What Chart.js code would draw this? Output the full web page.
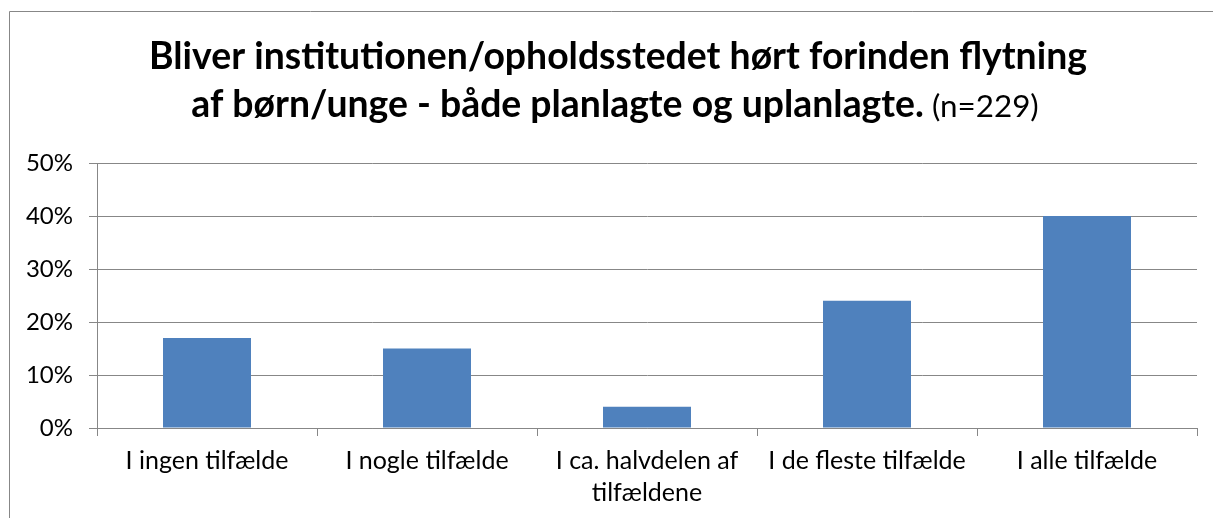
<!DOCTYPE html>
<html>
<head>
<meta charset="utf-8">
<script src="https://cdn.jsdelivr.net/npm/chart.js@4.4.1/dist/chart.umd.min.js"></script>
<style>
html,body{margin:0;padding:0;background:#fff;overflow:hidden;}
#wrap{position:absolute;left:0;top:0;width:1213px;height:518px;}
</style>
</head>
<body>
<div id="wrap"><canvas id="c" width="1213" height="518"></canvas></div>
<script>
const categories = ["I ingen tilfælde", "I nogle tilfælde", ["I ca. halvdelen af", "tilfældene"], "I de fleste tilfælde", "I alle tilfælde"];
const values = [17, 15, 4, 24, 40];
const titleLine1 = "Bliver institutionen/opholdsstedet hørt forinden flytning";
const titleLine2Bold = "af børn/unge - både planlagte og uplanlagte.";
const titleLine2Normal = " (n=229)";
const yTicks = [0, 10, 20, 30, 40, 50];

const FONT = "Lato, 'Open Sans', sans-serif";
const GRAY = "#878787";

const framePlugin = {
  id: 'frame',
  beforeDraw(chart) {
    const ctx = chart.ctx;
    ctx.save();
    ctx.fillStyle = '#fff';
    ctx.fillRect(0, 0, chart.width, chart.height);
    ctx.strokeStyle = GRAY;
    ctx.lineWidth = 1;
    ctx.beginPath();
    ctx.moveTo(9.5, chart.height);
    ctx.lineTo(9.5, 11.5);
    ctx.lineTo(chart.width, 11.5);
    ctx.stroke();
    ctx.restore();
  }
};

const titlePlugin = {
  id: 'richTitle',
  afterDraw(chart) {
    const ctx = chart.ctx;
    ctx.save();
    ctx.fillStyle = '#000';
    ctx.textBaseline = 'alphabetic';
    ctx.font = "bold 100px " + FONT;
    const w1 = ctx.measureText(titleLine1).width;
    const size = 100 * 938 / w1;
    const cx = 618;
    ctx.font = "bold " + size + "px " + FONT;
    ctx.textAlign = 'center';
    ctx.fillText(titleLine1, cx, 69);
    const wb = ctx.measureText(titleLine2Bold).width;
    const small = size * 0.84;
    ctx.font = small + "px " + FONT;
    const wn = ctx.measureText(titleLine2Normal).width;
    const total = wb + wn;
    const x0 = 615 - total / 2;
    ctx.textAlign = 'left';
    ctx.font = "bold " + size + "px " + FONT;
    ctx.fillText(titleLine2Bold, x0, 117);
    ctx.font = small + "px " + FONT;
    ctx.fillText(titleLine2Normal, x0 + wb, 117);
    ctx.restore();
  }
};

new Chart(document.getElementById('c'), {
  type: 'bar',
  data: {
    labels: categories,
    datasets: [{
      data: values,
      backgroundColor: '#4F81BD',
      borderWidth: 0,
      barPercentage: 0.4,
      categoryPercentage: 1.0
    }]
  },
  options: {
    responsive: false,
    animation: false,
    events: [],
    layout: { padding: { left: 9, right: 16, top: 163, bottom: 0 } },
    plugins: { legend: { display: false }, title: { display: false }, tooltip: { enabled: false } },
    scales: {
      x: {
        grid: { offset: true, drawOnChartArea: false, drawTicks: true, tickLength: 8, color: GRAY, lineWidth: 1 },
        border: { display: true, color: GRAY, width: 1 },
        ticks: { color: '#000', font: { family: FONT, size: 25, lineHeight: 1.28 }, padding: 9, maxRotation: 0, autoSkip: false },
        afterFit(s) { s.height = 90; }
      },
      y: {
        min: 0, max: 50,
        afterBuildTicks(s) { s.ticks = yTicks.map(v => ({ value: v })); },
        grid: { color: GRAY, lineWidth: 1, drawTicks: true, tickLength: 8 },
        border: { display: true, color: GRAY, width: 1 },
        ticks: { color: '#000', font: { family: FONT, size: 24 }, padding: 16, callback: v => v + '%' },
        afterFit(s) { s.width = 88; }
      }
    }
  },
  plugins: [framePlugin, titlePlugin]
});
</script>
</body>
</html>
